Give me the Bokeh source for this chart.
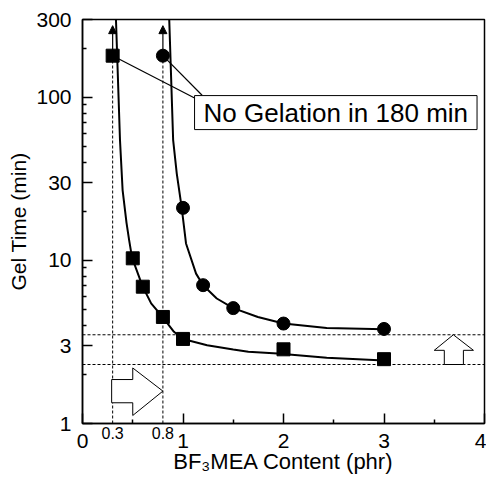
from bokeh.plotting import figure
from bokeh.models import FixedTicker, Label, Arrow, NormalHead, LinearAxis
from bokeh.embed import file_html
from bokeh.resources import INLINE

# ---- data ----
sq_x = [0.3, 0.5, 0.6, 0.8, 1.0, 2.0, 3.0]
sq_y = [180, 10.3, 6.9, 4.5, 3.3, 2.85, 2.48]
ci_x = [0.8, 1.0, 1.2, 1.5, 2.0, 3.0]
ci_y = [180, 21.0, 7.05, 5.1, 4.1, 3.8]

sq_fit_x = [0.333, 0.373, 0.399, 0.438, 0.464, 0.493, 0.575, 0.6, 0.683, 0.79, 0.91, 1.0, 1.24, 1.5, 1.65, 1.94, 2.43, 3.0]
sq_fit_y = [300, 54.7, 27, 17, 13.3, 10.4, 7.57, 6.9, 5.45, 4.55, 3.65, 3.3, 3.02, 2.84, 2.75, 2.69, 2.53, 2.43]
ci_fit_x = [0.863, 0.902, 0.938, 0.987, 1.03, 1.13, 1.2, 1.336, 1.5, 1.745, 2.0, 2.43, 3.0]
ci_fit_y = [300, 54.7, 34.1, 21.1, 12.7, 8.3, 7.05, 5.84, 5.1, 4.5, 4.1, 3.85, 3.78]

no_gel_x = [0.3, 0.8]
no_gel_y = [180, 180]
no_gel_arrow_top = 275
callout_x = [1.115, 1.19]
callout_y = [99, 103]
callout_text = "No Gelation in 180 min"
callout_box_x = 1.115
callout_text_y = 80.6

hline_y = [3.5, 2.3]
x_ticks = [0, 1, 2, 3, 4]
x_minor = [0.5, 1.5, 2.5, 3.5]
y_ticks = [1, 3, 10, 30, 100, 300]
y_minor = [2, 4, 5, 6, 7, 8, 9, 20, 40, 50, 60, 70, 80, 90, 200]
x_small_ticks = [0.3, 0.8]

# open block arrows (data coordinates)
right_arrow_x = [0.29, 0.5, 0.5, 0.8, 0.5, 0.5, 0.29]
right_arrow_y = [1.86, 1.86, 2.19, 1.58, 1.12, 1.34, 1.34]
up_arrow_x = [3.6, 3.6, 3.5, 3.69, 3.89, 3.79, 3.79]
up_arrow_y = [2.3, 2.81, 2.81, 3.5, 2.81, 2.81, 2.3]

FONT = "Liberation Sans"

p = figure(width=486, height=481, x_range=(0, 4), y_range=(1, 300),
           y_axis_type="log", output_backend="svg", toolbar_location=None,
           min_border_left=82, min_border_right=2, min_border_top=19,
           min_border_bottom=58)
p.xgrid.visible = False
p.ygrid.visible = False
p.outline_line_color = "black"
p.outline_line_width = 1.5

p.xaxis.ticker = FixedTicker(ticks=x_ticks, minor_ticks=x_minor)
p.yaxis.ticker = FixedTicker(ticks=y_ticks, minor_ticks=y_minor)
p.yaxis.major_label_overrides = {1: "1", 3: "3", 10: "10", 30: "30", 100: "100", 300: "300"}

for ax in (p.xaxis, p.yaxis):
    ax.axis_line_color = "black"
    ax.axis_line_width = 1.5
    ax.major_tick_in = 10
    ax.major_tick_out = 0
    ax.minor_tick_in = 4
    ax.minor_tick_out = 0
    ax.major_tick_line_width = 1.5
    ax.minor_tick_line_width = 1.5
    ax.major_tick_line_color = "black"
    ax.minor_tick_line_color = "black"
    ax.major_label_text_font = FONT
    ax.major_label_text_font_size = "21px"
    ax.major_label_text_color = "black"
    ax.axis_label_text_font = FONT
    ax.axis_label_text_font_style = "normal"
    ax.axis_label_text_font_size = "21px"
    ax.axis_label_text_color = "black"

p.yaxis.axis_label = "Gel Time (min)"
p.xaxis.major_label_standoff = 10
p.yaxis.major_label_standoff = 11
p.yaxis.axis_label_standoff = 3

# secondary bottom axis: small 0.3 / 0.8 labels (pulled up) + axis title
ax2 = LinearAxis(ticker=FixedTicker(ticks=x_small_ticks, minor_ticks=[]),
                 axis_line_color=None, major_tick_line_color=None,
                 minor_tick_line_color=None, major_tick_in=0, major_tick_out=0,
                 minor_tick_in=0, minor_tick_out=0,
                 major_label_text_font=FONT, major_label_text_font_size="16px",
                 major_label_text_color="black", major_label_standoff=-24,
                 major_label_overrides={0.3: "0.3", 0.8: "0.8"},
                 axis_label="BF₃MEA Content (phr)", axis_label_text_font=FONT,
                 axis_label_text_font_style="normal", axis_label_text_font_size="22px",
                 axis_label_text_color="black", axis_label_standoff=7)
p.add_layout(ax2, "below")

# dashed guide lines
for yv in hline_y:
    p.line(x=[x_ticks[0], x_ticks[-1]], y=[yv, yv], line_color="black",
           line_width=1, line_dash="3 2")
for xv, yv in zip(no_gel_x, no_gel_y):
    p.line(x=[xv, xv], y=[y_ticks[0], yv], line_color="black",
           line_width=1, line_dash="3 2")

# fitted curves
p.line(sq_fit_x, sq_fit_y, line_color="black", line_width=2)
p.line(ci_fit_x, ci_fit_y, line_color="black", line_width=2)

# block arrows
p.patch(right_arrow_x, right_arrow_y, fill_color="white", line_color="black", line_width=1)
p.patch(up_arrow_x, up_arrow_y, fill_color="white", line_color="black", line_width=1)

# callout lines
p.segment(x0=no_gel_x, y0=no_gel_y, x1=callout_x, y1=callout_y,
          line_color="black", line_width=1.2)

# markers
p.scatter(sq_x, sq_y, marker="square", size=13, fill_color="black", line_color="black")
p.scatter(ci_x, ci_y, marker="circle", size=13, fill_color="black", line_color="black")

# upward arrows for no gelation
for xv, yv in zip(no_gel_x, no_gel_y):
    p.add_layout(Arrow(x_start=xv, y_start=yv, x_end=xv, y_end=no_gel_arrow_top,
                       line_color="black", line_width=1.2,
                       end=NormalHead(size=8, fill_color="black", line_color="black")))

# callout box
p.add_layout(Label(x=callout_box_x, y=callout_text_y, text=callout_text,
                   text_font=FONT, text_font_size="26px", text_color="black",
                   text_align="left", text_baseline="middle",
                   border_line_color="black", border_line_width=1,
                   background_fill_color="white",
                   padding=dict(left=9, right=9, top=2, bottom=2)))

open("out.html", "w").write(file_html(p, INLINE))
